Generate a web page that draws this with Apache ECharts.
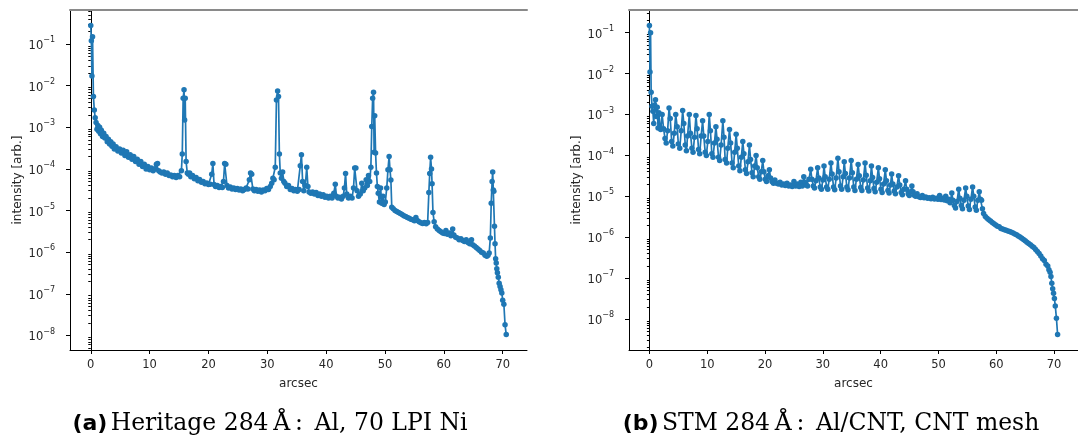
<!DOCTYPE html>
<html><head><meta charset="utf-8">
<script src="https://cdn.jsdelivr.net/npm/echarts@6/dist/echarts.min.js"></script>
<style>html,body{margin:0;padding:0;background:#fff}#c{width:1078px;height:442px}</style>
</head><body><div id="c"></div>
<script>
// ---- data: [arcsec, intensity] ----
const heritage = [
[0.0,0.28],[0.1,0.12],[0.2,0.017],[0.3,0.15],[0.45,5.5e-3],[0.6,2.6e-3],[0.75,1.7e-3],[0.9,1.3e-3],[1.05,9e-4],[1.2,1.1e-3],
[1.35,8e-4],[1.5,1.0e-3],[1.65,7e-4],[1.8,8.5e-4],[2.0,6e-4],[2.2,7.2e-4],[2.4,5.5e-4],[2.6,6e-4],[2.8,4.5e-4],[3.0,5.2e-4],
[3.2,4e-4],[3.4,4.5e-4],[3.6,3.5e-4],[3.8,4e-4],[4.0,3e-4],[4.3,3.4e-4],[4.6,2.7e-4],[4.9,3e-4],[5.2,2.4e-4],[5.5,2.8e-4],
[5.8,2.1e-4],[6.1,2.6e-4],[6.4,1.9e-4],[6.7,2.2e-4],[7.0,1.7e-4],[7.3,2e-4],[7.6,1.5e-4],[7.9,1.7e-4],[8.2,1.3e-4],[8.5,1.5e-4],
[8.8,1.15e-4],[9.1,1.3e-4],[9.4,1e-4],[9.7,1.15e-4],[10.0,9.5e-5],[10.3,1.05e-4],[10.6,9e-5],[10.9,1e-4],[11.15,1.3e-4],[11.35,1.35e-4],
[11.55,9e-5],[11.8,8.5e-5],[12.1,8e-5],[12.4,8.5e-5],[12.7,7.5e-5],[13.0,8e-5],[13.3,7e-5],[13.6,7.2e-5],[13.9,6.5e-5],[14.2,7e-5],
[14.5,6.2e-5],[14.8,7e-5],[15.1,6.5e-5],[15.4,9e-5],[15.55,2.3e-4],[15.7,5e-3],[15.85,8e-3],[15.95,1.5e-3],[16.05,5e-3],[16.2,1.5e-4],
[16.4,8e-5],[16.6,7.5e-5],[16.8,8e-5],[17.0,6.5e-5],[17.3,7e-5],[17.6,5.8e-5],[17.9,6.2e-5],[18.2,5.2e-5],[18.5,5.6e-5],[18.8,4.8e-5],
[19.1,5e-5],[19.4,4.4e-5],[19.7,4.6e-5],[20.0,4.2e-5],[20.3,4.3e-5],[20.55,7.5e-5],[20.75,1.35e-4],[20.95,4.2e-5],[21.2,3.8e-5],[21.5,4e-5],
[21.8,3.6e-5],[22.1,3.8e-5],[22.35,3.6e-5],[22.55,5e-5],[22.75,1.35e-4],[22.95,1.3e-4],[23.15,4e-5],[23.4,3.5e-5],[23.7,3.7e-5],[24.0,3.3e-5],
[24.3,3.5e-5],[24.6,3.2e-5],[24.9,3.4e-5],[25.2,3.1e-5],[25.5,3.3e-5],[25.8,3.0e-5],[26.1,3.2e-5],[26.4,3.5e-5],[26.7,3.3e-5],[26.95,5.5e-5],
[27.15,8e-5],[27.35,7.5e-5],[27.55,3.3e-5],[27.8,3e-5],[28.1,3.2e-5],[28.4,2.9e-5],[28.7,3.1e-5],[29.0,2.8e-5],[29.3,3.1e-5],[29.6,3e-5],
[29.9,3.4e-5],[30.2,3.2e-5],[30.5,3.8e-5],[30.75,4.5e-5],[30.95,6e-5],[31.15,5.5e-5],[31.35,1.1e-4],[31.55,4.5e-3],[31.75,7.5e-3],[31.9,5.5e-3],
[32.05,2.3e-4],[32.2,8e-5],[32.4,6e-5],[32.6,8.5e-5],[32.8,5e-5],[33.0,4.5e-5],[33.3,3.8e-5],[33.6,4e-5],[33.9,3.2e-5],[34.2,3.4e-5],
[34.5,3e-5],[34.8,3.2e-5],[35.1,2.9e-5],[35.4,3.2e-5],[35.6,1.2e-4],[35.8,2.2e-4],[36.0,5e-5],[36.2,3e-5],[36.45,4e-5],[36.7,1.1e-4],
[36.9,3.8e-5],[37.1,2.8e-5],[37.4,2.6e-5],[37.7,2.8e-5],[38.0,2.5e-5],[38.3,2.7e-5],[38.6,2.3e-5],[38.9,2.5e-5],[39.2,2.2e-5],[39.5,2.4e-5],
[39.8,2.1e-5],[40.1,2.2e-5],[40.4,2e-5],[40.7,2.2e-5],[41.0,2e-5],[41.3,2.6e-5],[41.55,4.3e-5],[41.75,2.2e-5],[42.0,2e-5],[42.3,2.1e-5],
[42.6,1.9e-5],[42.9,2.2e-5],[43.1,3.5e-5],[43.3,7.8e-5],[43.5,2.5e-5],[43.8,2e-5],[44.1,2.2e-5],[44.4,2e-5],[44.65,3.5e-5],[44.85,1.05e-4],
[45.05,1.05e-4],[45.25,3e-5],[45.5,2.2e-5],[45.8,2.5e-5],[46.05,4.5e-5],[46.3,3e-5],[46.55,3.5e-5],[46.8,5.5e-5],[47.0,4e-5],[47.2,7e-5],
[47.4,5e-5],[47.6,1.1e-4],[47.75,1.05e-3],[47.9,5e-3],[48.05,7e-3],[48.15,2.5e-4],[48.25,1.9e-3],[48.4,2.4e-4],[48.55,8e-5],[48.7,3.8e-5],
[48.85,2.6e-5],[49.05,1.6e-5],[49.25,3.5e-5],[49.45,1.5e-5],[49.65,2.2e-5],[49.85,1.4e-5],[50.05,1.6e-5],[50.3,3.5e-5],[50.5,9.5e-5],[50.7,2e-4],
[50.85,9.5e-5],[51.0,5.4e-5],[51.15,1.2e-5],[51.4,1.1e-5],[51.7,1.0e-5],[52.0,9.5e-6],[52.3,9e-6],[52.6,8.5e-6],[52.9,8e-6],[53.2,7.5e-6],
[53.5,7.2e-6],[53.8,6.8e-6],[54.1,6.5e-6],[54.4,6.2e-6],[54.7,6e-6],[55.0,5.7e-6],[55.25,6.8e-6],[55.5,5.8e-6],[55.8,5.4e-6],[56.1,5.1e-6],
[56.4,4.9e-6],[56.7,5.2e-6],[57.0,4.8e-6],[57.25,5.2e-6],[57.45,2.7e-5],[57.6,7.8e-5],[57.75,1.9e-4],[57.9,1e-4],[58.0,4.4e-5],[58.15,9e-6],
[58.35,5.4e-6],[58.6,4.1e-6],[58.9,3.6e-6],[59.2,3.3e-6],[59.5,3.1e-6],[59.8,2.9e-6],[60.1,2.8e-6],[60.35,3.3e-6],[60.6,2.7e-6],[60.9,2.9e-6],
[61.2,2.5e-6],[61.5,3.6e-6],[61.7,2.6e-6],[62.0,2.3e-6],[62.3,2.2e-6],[62.6,2.0e-6],[62.9,2.1e-6],[63.2,1.9e-6],[63.5,1.8e-6],[63.8,2.0e-6],
[64.1,1.7e-6],[64.4,1.6e-6],[64.7,2.0e-6],[64.9,1.5e-6],[65.2,1.4e-6],[65.5,1.3e-6],[65.8,1.2e-6],[66.1,1.1e-6],[66.4,1.0e-6],[66.7,9.5e-7],
[67.0,8.5e-7],[67.3,8e-7],[67.5,8.5e-7],[67.7,9.5e-7],[67.9,2.2e-6],[68.05,1.5e-5],[68.2,5e-5],[68.3,8.5e-5],[68.4,3.1e-5],[68.5,2.9e-5],
[68.6,4.2e-6],[68.7,1.6e-6],[68.8,7e-7],[68.9,5.5e-7],[69.0,4e-7],[69.1,3.2e-7],[69.25,2.5e-7],[69.4,1.8e-7],[69.55,1.5e-7],[69.7,1.25e-7],
[69.85,1.05e-7],[70.0,7e-8],[70.2,5.6e-8],[70.4,1.8e-8],[70.6,1.05e-8]
];
const stm = [
[0.0,0.15],[0.1,0.011],[0.2,0.1],[0.3,3.5e-3],[0.45,1.6e-3],[0.6,1.2e-3],[0.75,6e-4],[0.9,1.7e-3],[1.05,2.3e-3],[1.2,9e-4],
[1.35,1.5e-3],[1.5,4.7e-4],[1.65,1.1e-3],[1.8,5e-4],[1.95,4.3e-4],
[2.2,1.0e-3],[2.45,4.5e-4],[2.7,2.6e-4],[2.9,2.0e-4],[3.15,4.0e-4],
[3.4,1.45e-3],[3.6,8.0e-4],[3.85,2.2e-4],[4.05,1.7e-4],[4.3,3.5e-4],
[4.55,1.0e-3],[4.8,5.0e-4],[5.0,1.9e-4],[5.25,1.5e-4],[5.5,4.0e-4],
[5.75,1.25e-3],[5.95,6.0e-4],[6.2,1.8e-4],[6.4,1.3e-4],[6.6,3.0e-4],
[6.9,1.0e-3],[7.1,3.5e-4],[7.35,1.5e-4],[7.55,1.2e-4],[7.8,2.8e-4],
[8.05,9.5e-4],[8.25,4.5e-4],[8.5,1.4e-4],[8.7,1.1e-4],[8.95,3.0e-4],
[9.2,7.0e-4],[9.4,3.0e-4],[9.65,1.2e-4],[9.85,1.0e-4],[10.1,2.2e-4],
[10.35,1.0e-3],[10.55,4.0e-4],[10.8,1.1e-4],[11.0,9.0e-5],[11.25,2.0e-4],
[11.5,5.0e-4],[11.7,2.5e-4],[11.95,9.0e-5],[12.15,7.5e-5],[12.4,1.8e-4],
[12.7,7.0e-4],[12.9,2.8e-4],[13.1,8.0e-5],[13.35,6.5e-5],[13.55,1.5e-4],
[13.85,4.3e-4],[14.05,2.0e-4],[14.3,6.5e-5],[14.5,5.0e-5],[14.75,1.2e-4],
[15.0,3.3e-4],[15.2,1.5e-4],[15.45,5.5e-5],[15.65,4.2e-5],[15.9,9.0e-5],
[16.15,2.2e-4],[16.35,1.1e-4],[16.6,4.5e-5],[16.8,3.6e-5],[17.05,7.0e-5],
[17.3,1.8e-4],[17.5,8.0e-5],[17.75,3.8e-5],[17.95,3.0e-5],[18.2,5.5e-5],
[18.45,1.0e-4],[18.65,5.0e-5],[18.9,3.0e-5],[19.1,2.6e-5],[19.35,4.0e-5],
[19.6,7.5e-5],[19.8,4.0e-5],[20.05,2.6e-5],[20.25,2.3e-5],[20.5,3.2e-5],
[20.75,4.5e-5],[20.95,2.8e-5],[21.2,2.3e-5],[21.45,2.1e-5],[21.7,2.5e-5],
[22.0,2.1e-5],[22.3,2.0e-5],[22.6,2.2e-5],[22.9,1.9e-5],[23.2,2.0e-5],[23.5,1.85e-5],[23.8,2.1e-5],[24.1,1.8e-5],[24.4,1.9e-5],[24.7,1.75e-5],
[25.0,2.3e-5],[25.3,1.8e-5],[25.6,2.0e-5],[25.9,1.75e-5],[26.2,2.2e-5],[26.45,1.8e-5],
[26.7,3.0e-5],[26.9,2.2e-5],[27.15,1.9e-5],[27.35,1.8e-5],[27.6,2.6e-5],
[27.9,4.6e-5],[28.1,2.6e-5],[28.35,1.8e-5],[28.55,1.6e-5],[28.8,2.4e-5],
[29.1,5.0e-5],[29.3,2.8e-5],[29.55,1.7e-5],[29.75,1.5e-5],[30.0,2.5e-5],
[30.2,5.5e-5],[30.4,3.0e-5],[30.65,1.7e-5],[30.85,1.5e-5],[31.1,2.6e-5],
[31.4,6.5e-5],[31.6,3.5e-5],[31.85,1.7e-5],[32.05,1.45e-5],[32.3,2.8e-5],
[32.6,8.5e-5],[32.8,4.0e-5],[33.05,1.8e-5],[33.25,1.5e-5],[33.5,3.0e-5],
[33.7,7.0e-5],[33.9,3.6e-5],[34.15,1.7e-5],[34.35,1.45e-5],[34.6,2.8e-5],
[34.9,7.5e-5],[35.1,3.8e-5],[35.35,1.7e-5],[35.55,1.4e-5],[35.8,2.6e-5],
[36.1,6.0e-5],[36.3,3.2e-5],[36.55,1.65e-5],[36.75,1.4e-5],[37.0,2.5e-5],
[37.3,6.5e-5],[37.5,3.3e-5],[37.75,1.6e-5],[37.95,1.35e-5],[38.2,2.4e-5],
[38.4,5.5e-5],[38.6,2.9e-5],[38.85,1.55e-5],[39.05,1.3e-5],[39.3,2.2e-5],
[39.6,5.0e-5],[39.8,2.7e-5],[40.05,1.5e-5],[40.25,1.25e-5],[40.5,2.0e-5],
[40.8,4.5e-5],[41.0,2.4e-5],[41.25,1.4e-5],[41.45,1.2e-5],[41.7,1.9e-5],
[41.9,3.5e-5],[42.1,2.0e-5],[42.35,1.35e-5],[42.55,1.15e-5],[42.8,1.7e-5],
[43.1,3.2e-5],[43.3,1.9e-5],[43.55,1.25e-5],[43.75,1.1e-5],[44.0,1.5e-5],
[44.3,2.4e-5],[44.5,1.5e-5],[44.75,1.15e-5],[44.95,1.05e-5],[45.2,1.3e-5],
[45.4,1.8e-5],[45.6,1.3e-5],[45.85,1.05e-5],[46.05,1.0e-5],[46.3,1.15e-5],
[46.6,9.8e-6],[46.9,9.4e-6],[47.2,1.05e-5],[47.5,9.2e-6],[47.8,9.6e-6],[48.1,9.0e-6],[48.4,9.3e-6],[48.7,8.8e-6],[49.0,9.5e-6],[49.3,8.6e-6],
[49.6,9.0e-6],[49.9,8.5e-6],[50.2,1.05e-5],[50.45,8.4e-6],[50.7,9.0e-6],[51.0,8.2e-6],[51.25,1.0e-5],[51.5,7.8e-6],[51.75,8.5e-6],[52.0,7.0e-6],
[52.3,1.2e-5],[52.5,8.0e-6],[52.75,6.0e-6],[52.95,5.2e-6],[53.2,7.5e-6],
[53.5,1.5e-5],[53.7,9.0e-6],[53.95,6.0e-6],[54.15,5.0e-6],[54.4,8.0e-6],
[54.7,1.6e-5],[54.9,1.0e-5],[55.15,5.8e-6],[55.35,4.8e-6],[55.6,8.5e-6],
[55.9,1.7e-5],[56.1,1.0e-5],[56.35,5.5e-6],[56.55,4.6e-6],[56.8,8.0e-6],
[57.05,1.3e-5],[57.25,8.5e-6],[57.45,8.0e-6],[57.6,5.0e-6],
[57.8,3.8e-6],[58.1,3.2e-6],[58.4,2.9e-6],[58.7,2.7e-6],[59.0,2.5e-6],[59.3,2.3e-6],[59.6,2.15e-6],[59.9,2.0e-6],[60.2,1.85e-6],[60.5,1.8e-6],
[60.8,1.65e-6],[61.1,1.6e-6],[61.4,1.52e-6],[61.7,1.48e-6],[62.0,1.42e-6],[62.3,1.38e-6],[62.6,1.32e-6],[62.9,1.28e-6],[63.2,1.2e-6],[63.5,1.15e-6],
[63.8,1.08e-6],[64.1,1.02e-6],[64.4,9.5e-7],[64.7,8.8e-7],[65.0,8.2e-7],[65.3,7.6e-7],[65.6,7.0e-7],[65.9,6.6e-7],[66.2,6.0e-7],[66.5,5.6e-7],
[66.8,5.0e-7],[67.1,4.5e-7],[67.4,4.0e-7],[67.7,3.5e-7],[68.0,3.0e-7],[68.3,2.7e-7],[68.6,2.2e-7],[68.9,2.0e-7],[69.1,1.6e-7],[69.3,1.4e-7],
[69.45,1.1e-7],[69.6,7.5e-8],[69.75,5.5e-8],[69.9,4.3e-8],[70.05,3.2e-8],[70.2,2.1e-8],[70.4,1.05e-8],[70.6,4.2e-9]
];
const xTicks = [0, 10, 20, 30, 40, 50, 60, 70];
const yTicks = [1e-8, 1e-7, 1e-6, 1e-5, 1e-4, 1e-3, 1e-2, 1e-1];
const yTickExp = ['\u22128', '\u22127', '\u22126', '\u22125', '\u22124', '\u22123', '\u22122', '\u22121'];
const xName = 'arcsec';
const yName = 'intensity [arb.]';
const captionTags = ['(a)', '(b)'];
const captionTexts = ['Heritage 284\u2009\u00C5\u2009:\u2002Al, 70 LPI Ni', 'STM 284\u2009\u00C5\u2009:\u2002Al/CNT, CNT mesh'];

// minor log ticks (2..9 x 10^n)
const yMinor = [];
for (let e = -9; e <= -1; e++) for (let m = 2; m <= 9; m++) yMinor.push(m * Math.pow(10, e));

const C = '#1f77b4';
const TXT = '#262626';
const grids = [
  {left: 70, top: 10, width: 457, height: 340},
  {left: 629, top: 10, width: 457, height: 340}
];
const yRange = [[4.47e-9, 0.658], [1.76e-9, 0.358]];
const xRange = [-3.53, 74.13];

function yFmt(v) {
  const lv = Math.log10(v);
  const i = yTicks.findIndex(t => Math.abs(Math.log10(t) - lv) < 0.01);
  return i < 0 ? '' : '{b|10}{s|' + yTickExp[i] + '}';
}

const xAxis = [], yAxis = [];
grids.forEach((g, gi) => {
  xAxis.push({
    gridIndex: gi, type: 'value', min: xRange[0], max: xRange[1], position: 'bottom',
    axisLine: {onZero: false, lineStyle: {color: '#000', width: 1}},
    axisTick: {customValues: xTicks, length: 4, lineStyle: {color: '#000'}},
    axisLabel: {customValues: xTicks, color: TXT, fontSize: 11.5, fontFamily: 'DejaVu Sans', margin: 9},
    splitLine: {show: false},
    name: xName, nameLocation: 'middle', nameGap: 28,
    nameTextStyle: {color: TXT, fontSize: 12, fontFamily: 'DejaVu Sans'}
  });
  xAxis.push({
    gridIndex: gi, type: 'value', min: xRange[0], max: xRange[1], position: 'top',
    axisLine: {onZero: false, lineStyle: {color: '#8a8a8a', width: 2}},
    axisTick: {show: false}, axisLabel: {show: false}, splitLine: {show: false}
  });
  yAxis.push({
    gridIndex: gi, type: 'log', min: yRange[gi][0], max: yRange[gi][1], position: 'left',
    axisLine: {onZero: false, lineStyle: {color: '#000', width: 1}},
    axisTick: {customValues: yTicks, length: 4, lineStyle: {color: '#000'}},
    axisLabel: {customValues: yTicks, formatter: yFmt, margin: 15,
      rich: {
        b: {fontSize: 11.5, color: TXT, fontFamily: 'DejaVu Sans', lineHeight: 16, verticalAlign: 'bottom'},
        s: {fontSize: 8, color: TXT, fontFamily: 'DejaVu Sans', lineHeight: 16, verticalAlign: 'top'}
      }},
    splitLine: {show: false},
    name: yName, nameLocation: 'middle', nameGap: 46, nameRotate: 90,
    nameTextStyle: {color: TXT, fontSize: 12, fontFamily: 'DejaVu Sans'}
  });
  yAxis.push({
    gridIndex: gi, type: 'log', min: yRange[gi][0], max: yRange[gi][1], position: 'left',
    axisLine: {show: false},
    axisTick: {customValues: yMinor, length: 2.5, lineStyle: {color: '#000'}},
    axisLabel: {show: false}, splitLine: {show: false}
  });
  yAxis.push({
    gridIndex: gi, type: 'log', min: yRange[gi][0], max: yRange[gi][1], position: 'right',
    axisLine: {show: true, lineStyle: {color: '#000', width: 1}},
    axisTick: {show: false}, axisLabel: {show: false}, splitLine: {show: false}
  });
});

const seriesData = [heritage, stm];
const series = seriesData.map((d, i) => ({
  type: 'line', xAxisIndex: i * 2, yAxisIndex: i * 3, data: d,
  symbol: 'circle', symbolSize: 5.5, showSymbol: true,
  lineStyle: {color: C, width: 1.7}, itemStyle: {color: C},
  emphasis: {disabled: true}, clip: true, z: 3
}));

const captionX = [270, 831];
const graphic = captionX.map((cx, i) => ({
  type: 'text', x: cx, y: 424,
  style: {
    text: '{b|' + captionTags[i] + '} {r|' + captionTexts[i] + '}',
    align: 'center', verticalAlign: 'middle',
    rich: {
      b: {fontSize: 22, fontWeight: 'bold', fontFamily: 'DejaVu Sans', fill: '#000'},
      r: {fontSize: 23.5, fontFamily: 'DejaVu Serif', fill: '#000'}
    }
  }
}));

const chart = echarts.init(document.getElementById('c'), null, {renderer: 'canvas'});
chart.setOption({
  animation: false,
  backgroundColor: '#fff',
  grid: grids,
  xAxis: xAxis, yAxis: yAxis, series: series, graphic: graphic
});
</script></body></html>
